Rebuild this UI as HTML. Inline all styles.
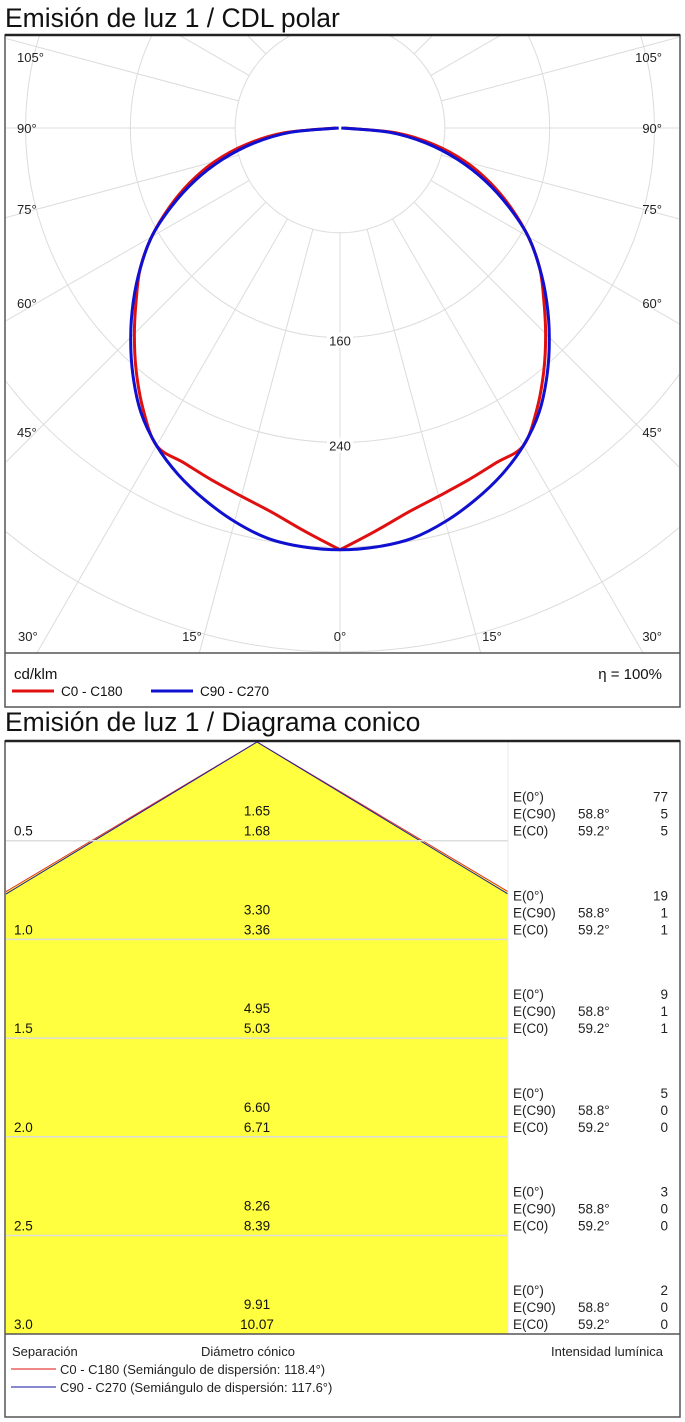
<!DOCTYPE html>
<html><head><meta charset="utf-8"><style>
html,body{margin:0;padding:0;background:#fff;}
svg{display:block;font-family:"Liberation Sans",Arial,sans-serif;}
</style></head><body>
<svg id="s" width="685" height="1422" viewBox="0 0 685 1422" xmlns="http://www.w3.org/2000/svg">
<defs>
<clipPath id="pc"><rect x="6" y="36" width="673" height="617"/></clipPath>
<clipPath id="cc"><rect x="6" y="742" width="502" height="592"/></clipPath>
</defs>
<text x="5" y="27" font-size="26.5" fill="#111">Emisión de luz 1 / CDL polar</text>
<g id="polar"></g>
<rect x="5" y="35" width="675" height="672" fill="none" stroke="#555" stroke-width="1.5"/>
<line x1="5" y1="35" x2="680" y2="35" stroke="#222" stroke-width="2.5"/>
<line x1="5" y1="653" x2="680" y2="653" stroke="#555" stroke-width="1.5"/>
<text x="14" y="679" font-size="15" fill="#111">cd/klm</text>
<text x="662" y="679" font-size="15" text-anchor="end" fill="#111">η = 100%</text>
<line x1="12" y1="691" x2="54" y2="691" stroke="#e01010" stroke-width="3"/>
<text x="61" y="696" font-size="13.5" fill="#111">C0 - C180</text>
<line x1="151" y1="691" x2="193" y2="691" stroke="#1010d0" stroke-width="3"/>
<text x="200" y="696" font-size="13.5" fill="#111">C90 - C270</text>

<text x="5" y="731" font-size="26.5" fill="#111">Emisión de luz 1 / Diagrama conico</text>
<g id="conic"></g>
<rect x="5" y="741" width="675" height="676" fill="none" stroke="#555" stroke-width="1.5"/>
<line x1="5" y1="741" x2="680" y2="741" stroke="#222" stroke-width="2.5"/>
<line x1="5" y1="1334" x2="680" y2="1334" stroke="#555" stroke-width="1.5"/>
<text x="12" y="1356" font-size="13" fill="#222">Separación</text>
<text x="201" y="1356" font-size="13" fill="#222">Diámetro cónico</text>
<text x="663" y="1356" font-size="13" text-anchor="end" fill="#222">Intensidad lumínica</text>
<line x1="11" y1="1369" x2="56" y2="1369" stroke="#e01010" stroke-width="1"/>
<text x="60" y="1374" font-size="13" fill="#222">C0 - C180 (Semiángulo de dispersión: 118.4°)</text>
<line x1="11" y1="1387" x2="56" y2="1387" stroke="#1010a0" stroke-width="1"/>
<text x="60" y="1392" font-size="13" fill="#222">C90 - C270 (Semiángulo de dispersión: 117.6°)</text>
</svg>
<script>
// ---- polar data ----
const gammaDeg = [0,5,10,15,20,25,30,35,40,45,50,55,60,65,70,75,80,85,90];
const c0c180 = [322,309,298,291,286,282,280,262,242,222,203,186,166,144,122,99,73,43,3];
const c90c270 = [322,321,318,311,302,292,280,265,246,226,206,186,166,142,118,93,67,38,1];
const ringValues = [80,160,240,320,400,480,560];
const ringLabels = ["160","240"];
const angleLabels = ["105°","90°","75°","60°","45°","30°"];
const bottomLabels = ["30°","15°","0°","15°","30°"];

// ---- conic data ----
const heights = [0.5,1.0,1.5,2.0,2.5,3.0];
const diamC90 = ["1.65","3.30","4.95","6.60","8.26","9.91"];
const diamC0 = ["1.68","3.36","5.03","6.71","8.39","10.07"];
const e0 = [77,19,9,5,3,2];
const eC90 = [5,1,1,0,0,0];
const eC0 = [5,1,1,0,0,0];
const halfC90 = 58.8, halfC0 = 59.2;

const NS="http://www.w3.org/2000/svg";
function mk(tag, attrs, parent){const e=document.createElementNS(NS,tag);for(const k in attrs)e.setAttribute(k,attrs[k]);parent.appendChild(e);return e;}

// polar axes
const cx=340, cy=128, k=1.31;
const rad = v => v*k;
function pt(gDeg, v, side){const a=gDeg*Math.PI/180;return [cx+side*Math.sin(a)*rad(v), cy+Math.cos(a)*rad(v)];}
const P=document.getElementById('polar');
const grid=mk('g',{'clip-path':'url(#pc)'},P);


for(let a=0;a<360;a+=15){
  const t=a*Math.PI/180, r0=rad(ringValues[0]), r1=900;
  const l=mk('line',{x1:cx+Math.sin(t)*r0,y1:cy+Math.cos(t)*r0,x2:cx+Math.sin(t)*r1,y2:cy+Math.cos(t)*r1,stroke:'#dcdcdc','stroke-width':1},grid);
  
  
}
ringValues.forEach(v=>{
  const c=mk('circle',{cx:cx,cy:cy,r:rad(v),fill:'none',stroke:'#dcdcdc','stroke-width':1},grid);
  
  
});
ringLabels.forEach(s=>{
  const v=+s, y=cy+rad(v)+8;
  mk('rect',{x:cx-13,y:y-13,width:26,height:15,fill:'#fff'},P);
  const t=mk('text',{x:cx,y:y,'font-size':13,'text-anchor':'middle',fill:'#222'},P);
  t.textContent=s;
  
  
});
const sideY=[62,133,214,308,437];
angleLabels.slice(0,5).forEach((s,i)=>{
  [[17,'start'],[662,'end']].forEach(([x,anc])=>{
    const t=mk('text',{x:x,y:sideY[i],'font-size':13,'text-anchor':anc,fill:'#222'},P);
    t.textContent=s;
    
    
  });
});
const bx=[[18,'start'],[192,'middle'],[340,'middle'],[492,'middle'],[662,'end']];
bottomLabels.forEach((s,i)=>{
  const t=mk('text',{x:bx[i][0],y:641,'font-size':13,'text-anchor':bx[i][1],fill:'#222'},P);
  t.textContent=s;
  
  
});
function smoothPath(pts, move){
  let d=(move?'M':'L')+pts[0][0].toFixed(1)+','+pts[0][1].toFixed(1);
  for(let i=0;i<pts.length-1;i++){
    const p0=pts[Math.max(0,i-1)],p1=pts[i],p2=pts[i+1],p3=pts[Math.min(pts.length-1,i+2)];
    const c1=[p1[0]+(p2[0]-p0[0])/6,p1[1]+(p2[1]-p0[1])/6];
    const c2=[p2[0]-(p3[0]-p1[0])/6,p2[1]-(p3[1]-p1[1])/6];
    d+=' C'+c1.map(v=>v.toFixed(1)).join(',')+' '+c2.map(v=>v.toFixed(1)).join(',')+' '+p2.map(v=>v.toFixed(1)).join(',');
  }
  return d;
}
function curve(vals,color,name,sharpBottom){
  const left=[], right=[];
  for(let i=gammaDeg.length-1;i>=0;i--)left.push(pt(gammaDeg[i],vals[i],-1));
  for(let i=0;i<gammaDeg.length;i++)right.push(pt(gammaDeg[i],vals[i],1));
  let d;
  if(sharpBottom){ d=smoothPath(left,true)+' '+smoothPath(right,false); }
  else { d=smoothPath(left.concat(right.slice(1)),true); }
  const p=mk('path',{d:d,fill:'none',stroke:color,'stroke-width':3,'stroke-linejoin':'round'},P);
  
  
}
curve(c0c180,'#e01010','curve-c0-c180',true);
curve(c90c270,'#1010d0','curve-c90-c270',false);

// conic
const C=document.getElementById('conic');
const top0=742, rowH=98.7, pxm=rowH/0.5, apex=257, yellowR=508;
const yOf = h => top0 + h*pxm;
const hw = (h,ang) => h*Math.tan(ang*Math.PI/180)*pxm;
const hMax = heights[heights.length-1];
const cg=mk('g',{'clip-path':'url(#cc)'},C);
const fill=mk('polygon',{points:[[apex-hw(hMax,halfC0),yOf(hMax)],[apex,top0],[apex+hw(hMax,halfC0),yOf(hMax)]].map(q=>q.join(',')).join(' '),fill:'#ffff40'},cg);


mk('rect',{x:yellowR,y:top0,width:180,height:600,fill:'#fff'},C);
heights.forEach((h,i)=>{
  const y=yOf(h);
  if(i<heights.length-1){
    const l=mk('line',{x1:6,y1:y,x2:yellowR,y2:y,stroke:'#dddddd','stroke-width':1.5},C);
    
    
  }
  const lab=mk('text',{x:14,y:y-5,'font-size':13.5,fill:'#111'},C);
  lab.textContent=h.toFixed(1);
  
  
  const d1=mk('text',{x:apex,y:y-25,'font-size':13.5,'text-anchor':'middle',fill:'#111'},C);
  d1.textContent=diamC90[i];
  
  
  const d2=mk('text',{x:apex,y:y-5,'font-size':13.5,'text-anchor':'middle',fill:'#111'},C);
  d2.textContent=diamC0[i];
  
  
  const rows=[['E(0°)','',e0[i]],['E(C90)',halfC90.toFixed(1)+'°',eC90[i]],['E(C0)',halfC0.toFixed(1)+'°',eC0[i]]];
  rows.forEach((r,j)=>{
    const yy=y-39+j*17;
    const a=mk('text',{x:513,y:yy,'font-size':13.5,fill:'#222'},C);a.textContent=r[0];
    
    
    if(r[1]){const b=mk('text',{x:578,y:yy,'font-size':13.5,fill:'#222'},C);b.textContent=r[1];
      
      }
    const c=mk('text',{x:668,y:yy,'font-size':13.5,'text-anchor':'end',fill:'#222'},C);c.textContent=r[2];
    
    
  });
});
[[halfC0,'#e03030','cone-edge-c0'],[halfC90,'#2020a0','cone-edge-c90']].forEach(([ang,col,nm])=>{
  const l=mk('polyline',{points:[[apex-hw(hMax,ang),yOf(hMax)],[apex,top0],[apex+hw(hMax,ang),yOf(hMax)]].map(q=>q.join(',')).join(' '),fill:'none',stroke:col,'stroke-width':1},cg);
  
  
});
mk('line',{x1:yellowR,y1:top0,x2:yellowR,y2:1334,stroke:'#e8e8e8','stroke-width':1},C);
</script>
</body></html>
